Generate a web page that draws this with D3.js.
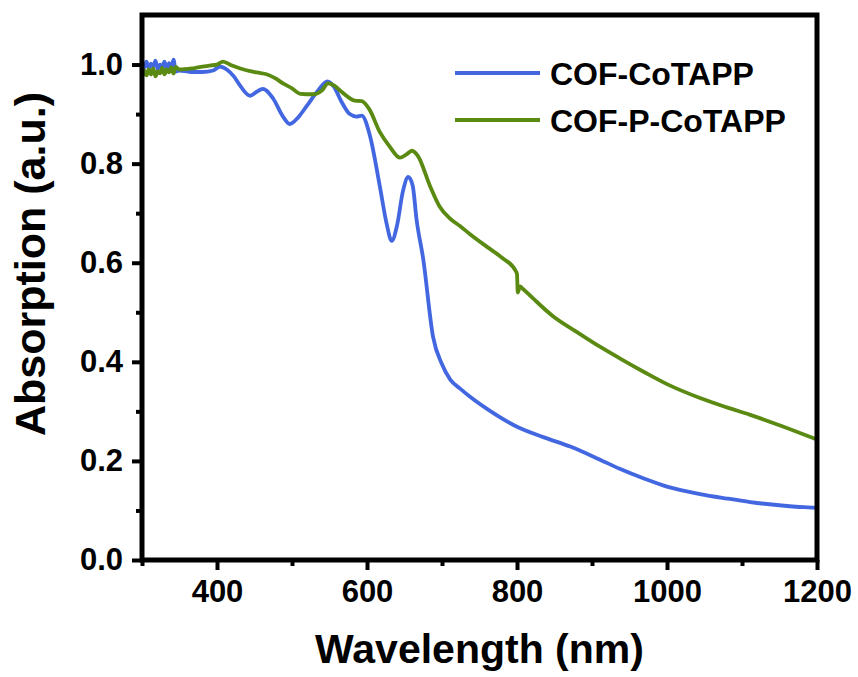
<!DOCTYPE html>
<html>
<head>
<meta charset="utf-8">
<script src="https://cdn.jsdelivr.net/npm/d3@7"></script>
<style>
  body { margin: 0; background: #fff; }
  text { font-family: "Liberation Sans", Arial, sans-serif; font-weight: bold; fill: #000; }
</style>
</head>
<body>
<div id="container"></div>
<script>
// wavelength (nm) and absorption values
const blueX = [300,303,306,309,312,315,318,321,324,327,330,333,336,339,342,345,350,365,380,395,404,413,423,431,444,453,461,475,488,497,508,520,535,547,556,566,577,586,593,604,617,626,633,640,648,655,661,666,675,688,700,711,725,737,760,800,835,871,910,937,970,1000,1044,1080,1111,1160,1200];
const blueY = [1.0,0.994,1.006,0.992,1.002,0.996,1.008,0.99,1.0,0.995,1.006,0.99,1.003,0.994,1.01,0.986,0.988,0.985,0.985,0.988,0.996,0.99,0.975,0.957,0.937,0.945,0.951,0.931,0.895,0.88,0.893,0.917,0.948,0.966,0.955,0.925,0.90,0.895,0.897,0.856,0.755,0.68,0.644,0.675,0.745,0.773,0.755,0.688,0.607,0.451,0.395,0.364,0.345,0.33,0.305,0.269,0.248,0.229,0.203,0.184,0.164,0.148,0.133,0.124,0.117,0.109,0.105];

const greenX = [300,303,306,309,312,315,318,321,324,327,330,333,336,339,342,345,350,370,390,400,408,420,431,453,467,478,488,500,511,528,540,548,556,566,584,593,603,617,630,644,652,660,668,684,697,710,724,737,760,780,798,800,801,804,808,820,848,880,910,937,970,1000,1044,1080,1111,1150,1200];
const greenY = [0.974,0.988,0.978,0.99,0.98,0.992,0.976,0.986,0.982,0.993,0.98,0.99,0.984,0.994,0.982,0.995,0.99,0.993,0.998,1.0,1.006,0.998,0.992,0.984,0.98,0.972,0.962,0.952,0.941,0.94,0.948,0.962,0.958,0.945,0.927,0.926,0.91,0.864,0.835,0.812,0.818,0.826,0.815,0.755,0.713,0.69,0.674,0.658,0.632,0.61,0.584,0.577,0.54,0.552,0.547,0.53,0.492,0.46,0.431,0.407,0.379,0.355,0.327,0.308,0.293,0.272,0.243];

const seriesNames = ["COF-CoTAPP", "COF-P-CoTAPP"];
const seriesColors = ["#4267e0", "#5a8a12"];

const xTicks = [400, 600, 800, 1000, 1200];
const xMinor = [300, 500, 700, 900, 1100];
const yTicks = [0.0, 0.2, 0.4, 0.6, 0.8, 1.0];
const yMinor = [0.1, 0.3, 0.5, 0.7, 0.9];

const W = 858, H = 677;
const plot = {left: 142, right: 817, top: 15, bottom: 560};

const svg = d3.select("#container").append("svg")
  .attr("width", W).attr("height", H);

const x = d3.scaleLinear().domain([300, 1200]).range([plot.left, plot.right]);
const y = d3.scaleLinear().domain([0, 1.1]).range([plot.bottom, plot.top]);

// data lines
const series = [
  blueX.map((v, i) => [v, blueY[i]]),
  greenX.map((v, i) => [v, greenY[i]])
];

const line = d3.line()
  .x(d => x(d[0]))
  .y(d => y(d[1]))
  .curve(d3.curveMonotoneX);

svg.selectAll(".series")
  .data(series)
  .enter()
  .append("path")
  .attr("class", "series")
  .attr("d", line)
  .attr("fill", "none")
  .attr("stroke", (d, i) => seriesColors[i])
  .attr("stroke-width", 3.8)
  .attr("stroke-linejoin", "round");

// frame
svg.append("rect")
  .attr("x", plot.left).attr("y", plot.top)
  .attr("width", plot.right - plot.left).attr("height", plot.bottom - plot.top)
  .attr("fill", "none")
  .attr("stroke", "#000")
  .attr("stroke-width", 5);

// axes
svg.append("g")
  .attr("transform", `translate(0,${plot.bottom})`)
  .call(d3.axisBottom(x).tickValues(xTicks).tickSize(10).tickPadding(10).tickFormat(d3.format("d")));
svg.append("g")
  .attr("transform", `translate(0,${plot.bottom})`)
  .call(d3.axisBottom(x).tickValues(xMinor).tickSize(6).tickFormat(""));

svg.append("g")
  .attr("transform", `translate(${plot.left},0)`)
  .call(d3.axisLeft(y).tickValues(yTicks).tickSize(10).tickPadding(9).tickFormat(d3.format(".1f")));
svg.append("g")
  .attr("transform", `translate(${plot.left},0)`)
  .call(d3.axisLeft(y).tickValues(yMinor).tickSize(6).tickFormat(""));

svg.selectAll(".domain").remove();
svg.selectAll(".tick line").attr("stroke", "#000").attr("stroke-width", 4);
svg.selectAll(".tick text").style("font-size", "31px").style("font-family", "Liberation Sans, Arial, sans-serif").style("font-weight", "bold");

// axis titles
svg.append("text")
  .attr("x", (plot.left + plot.right) / 2)
  .attr("y", 663)
  .attr("text-anchor", "middle")
  .style("font-size", "41px")
  .text("Wavelength (nm)");

svg.append("text")
  .attr("transform", `translate(45,264) rotate(-90)`)
  .attr("text-anchor", "middle")
  .style("font-size", "43px")
  .text("Absorption (a.u.)");

// legend
const legend = svg.append("g");
seriesNames.forEach((name, i) => {
  const ly = 73 + i * 47;
  legend.append("line")
    .attr("x1", 455).attr("x2", 540)
    .attr("y1", ly).attr("y2", ly)
    .attr("stroke", seriesColors[i])
    .attr("stroke-width", 4);
  legend.append("text")
    .attr("x", 550)
    .attr("y", ly + 12)
    .style("font-size", "32px")
    .text(name);
});
</script>
</body>
</html>
